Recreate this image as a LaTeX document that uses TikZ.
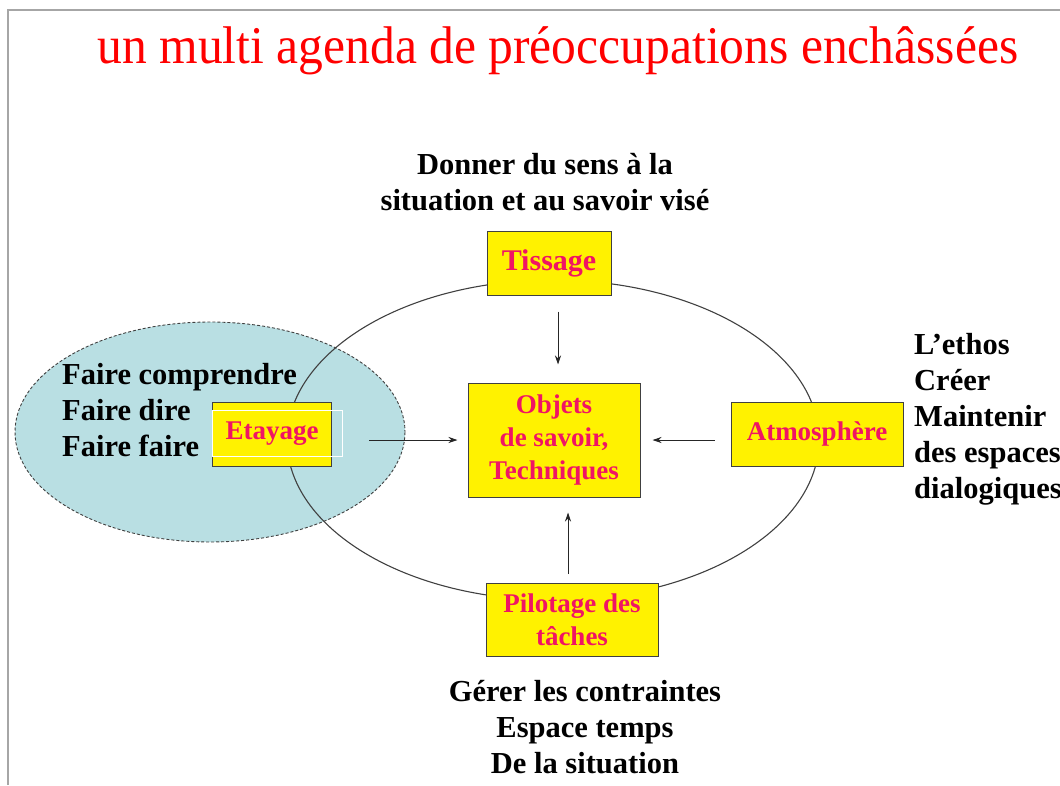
\documentclass[tikz,border=0pt]{standalone}
\usepackage{fontspec}
\setmainfont{Liberation Serif}
\usetikzlibrary{arrows.meta,positioning}
\definecolor{labelred}{RGB}{240,20,100}
\definecolor{zonebleu}{RGB}{185,223,227}

\begin{document}
\begin{tikzpicture}[x=1pt,y=-1pt,
  box/.style={draw=black!75,line width=1pt,fill=yellow,text=labelred,align=center,inner sep=0pt,
    font=\fontsize{27}{33}\selectfont\bfseries},
  side/.style={align=left,inner sep=0pt,font=\fontsize{30.5}{36}\selectfont\bfseries},
  arr/.style={-{Stealth[length=9pt,width=6pt]},line width=0.9pt,black!85}]
\useasboundingbox (0,0) rectangle (1060,785);
\draw[gray!70,line width=2pt] (8,785) -- (8,10) -- (1060,10);

\node[text=red,inner sep=0pt,anchor=base,xscale=0.935,font=\fontsize{53}{60}\selectfont] (titre) at (558,63)
  {un multi agenda de préoccupations enchâssées};

\draw[dash pattern=on 3pt off 2pt,black!75,line width=0.9pt,fill=zonebleu] (210,432) ellipse (195 and 110);
\draw[black!75,line width=1.1pt] (553,440) ellipse (266 and 160);

\node[box,minimum width=124pt,minimum height=64pt,font=\fontsize{30}{33}\selectfont\bfseries] (tis) at (549,263) {Tissage};
\node[box,minimum width=172pt,minimum height=114pt] (obj) at (554,440) {Objets\\de savoir,\\Techniques};
\node[box,minimum width=119pt,minimum height=64pt] (eta) at (272,434) {Etayage};
\node[box,minimum width=172pt,minimum height=64pt] (atm) at (817,434) {Atmosphère};
\node[box,minimum width=172pt,minimum height=73pt] (pil) at (572,620) {Pilotage des\\tâches};
\draw[white,line width=0.8pt] ([yshift=-9pt]eta.north west) rectangle ([xshift=10pt,yshift=10pt]eta.south east);

\node[side,align=center] (sens) at (545,182) {Donner du sens à la\\situation et au savoir visé};
\node[side,anchor=west] (faire) at (62,410) {Faire comprendre\\Faire dire\\Faire faire};
\node[side,anchor=west] (ethos) at (914,419) {L’ethos\\Créer\\Maintenir\\des espaces\\dialogiques};
\node[side,align=center] (gerer) at (585,727) {Gérer les contraintes\\Espace temps\\De la situation};

\draw[arr,shorten <=16pt,shorten >=18pt] ([xshift=4pt]obj.north |- tis.south) -- ([xshift=4pt]obj.north);
\draw[arr,shorten <=37pt,shorten >=10pt] (eta.east |- obj.west) -- (obj.west);
\draw[arr,shorten <=16pt,shorten >=12pt] (atm.west |- obj.east) -- (obj.east);
\draw[arr,shorten <=9pt,shorten >=15pt] ([xshift=-4pt]pil.north) -- ([xshift=-4pt]pil.north |- obj.south);
\end{tikzpicture}
\end{document}
